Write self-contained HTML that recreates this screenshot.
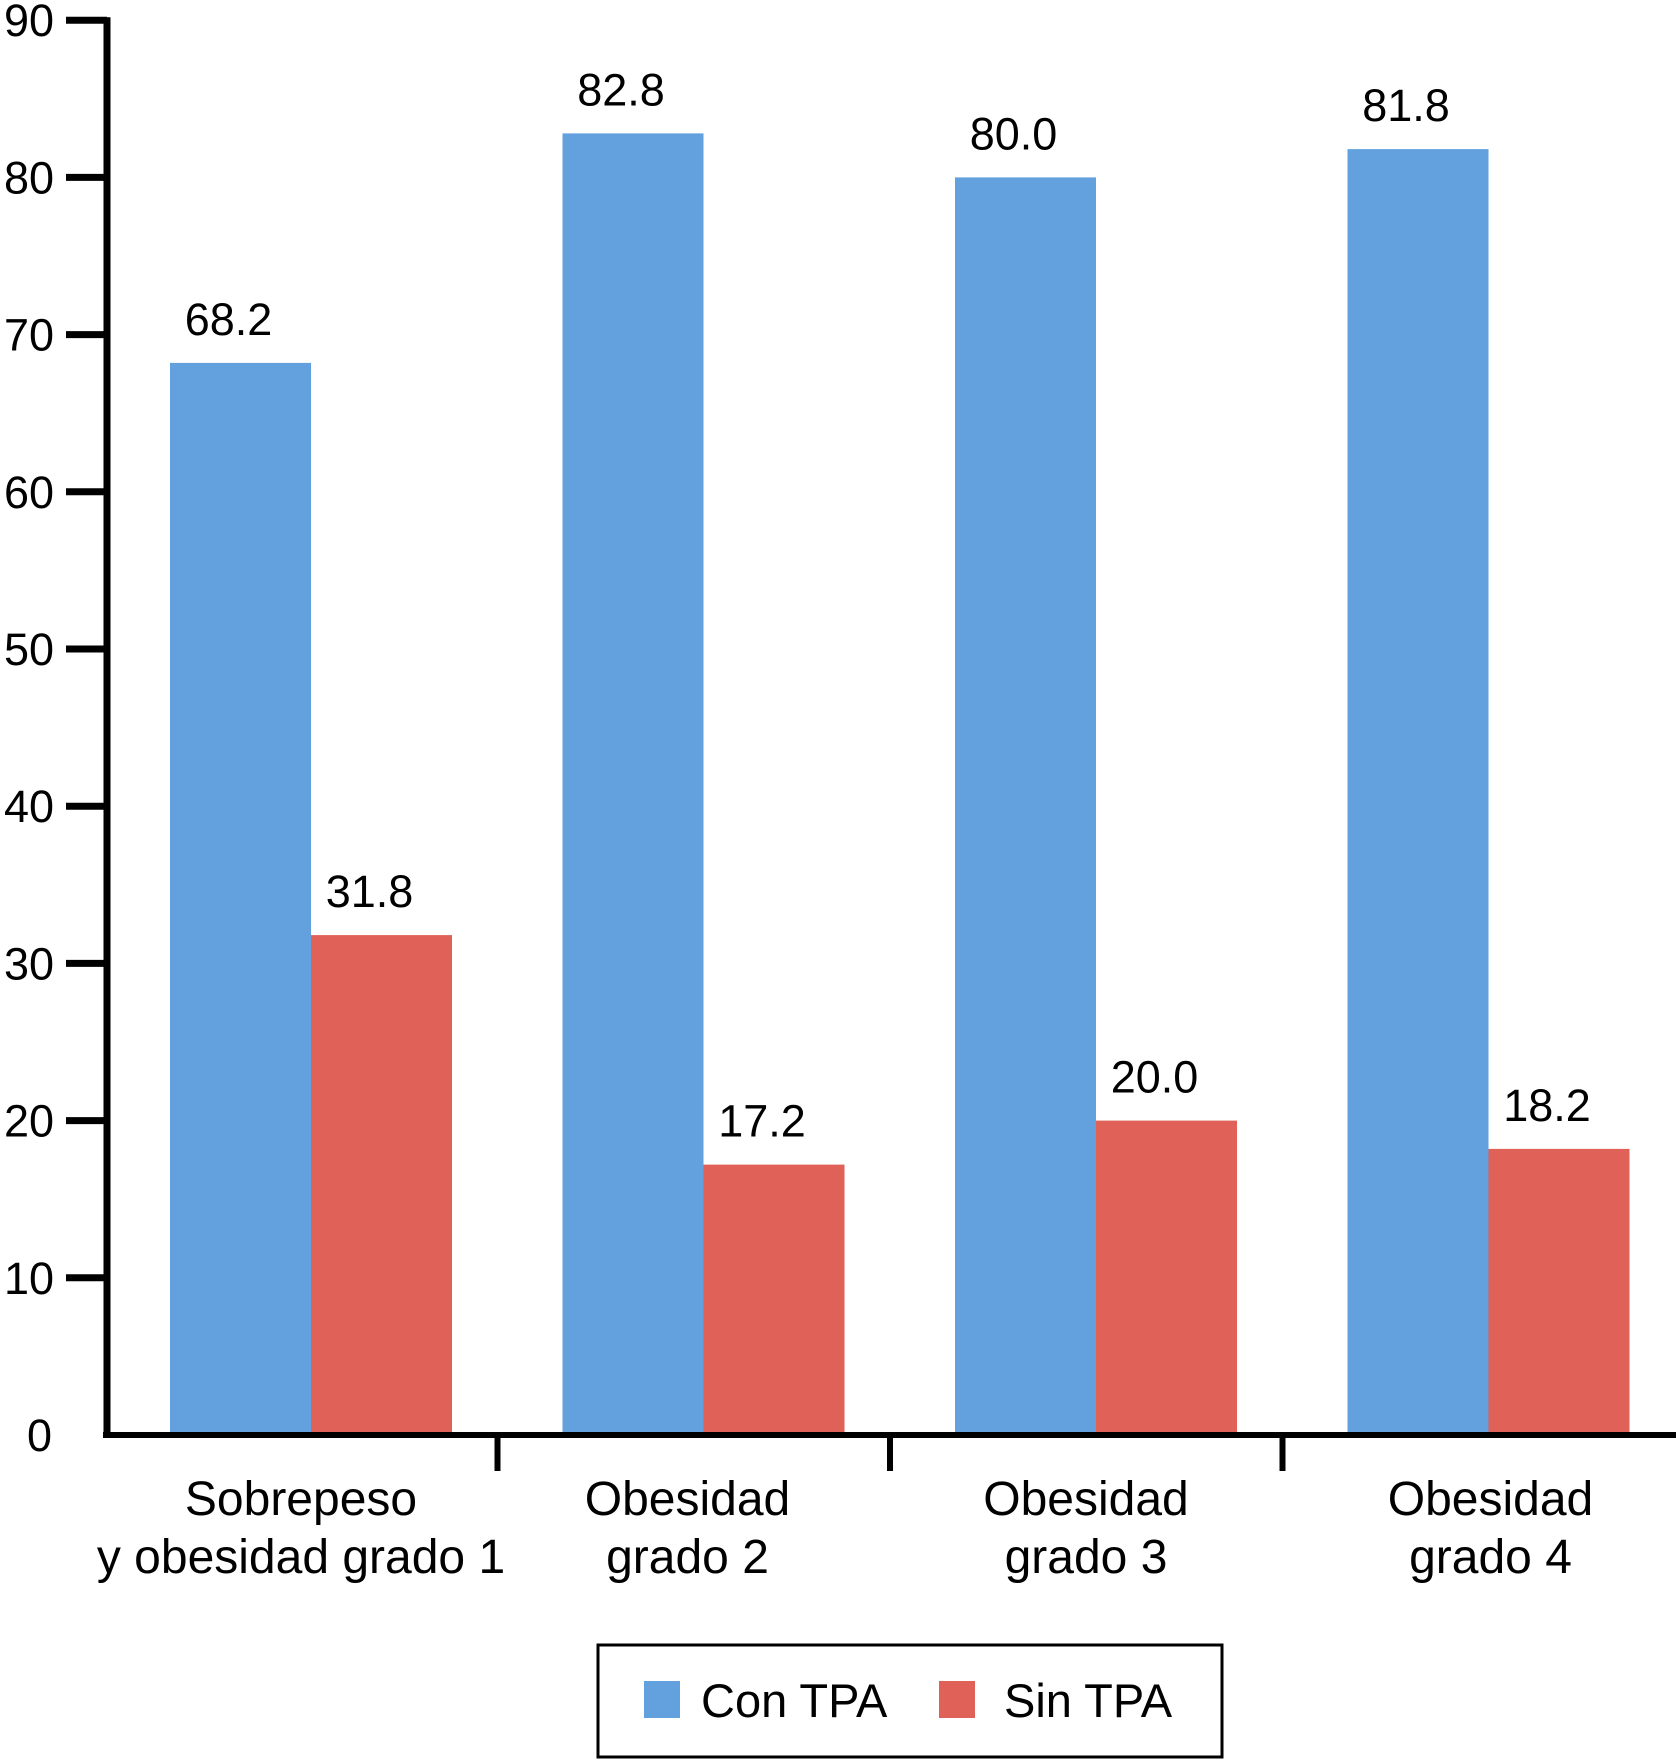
<!DOCTYPE html>
<html><head><meta charset="utf-8"><style>
body{margin:0;background:#fff}
svg{display:block;font-family:"Liberation Sans",Arial,sans-serif}
</style></head><body>
<svg id="chart" width="1676" height="1760" viewBox="0 0 1676 1760"></svg>
<script>
const categories=[["Sobrepeso","y obesidad grado 1"],["Obesidad","grado 2"],["Obesidad","grado 3"],["Obesidad","grado 4"]];
const conTPA=[68.2,82.8,80.0,81.8];
const sinTPA=[31.8,17.2,20.0,18.2];
const yTicks=[0,10,20,30,40,50,60,70,80,90];
const NS="http://www.w3.org/2000/svg";
const svg=document.getElementById('chart');
const y0=1435,pxPerUnit=15.72;
const yScale=v=>y0-v*pxPerUnit;
const groupStart=170,groupStep=392.5,barW=141;
const xScale=(i,s)=>groupStart+i*groupStep+s*barW;
function mk(tag,attrs,parent){const e=document.createElementNS(NS,tag);for(const k in attrs)e.setAttribute(k,attrs[k]);(parent||svg).appendChild(e);return e;}
conTPA.forEach((v,i)=>{
 const r=mk('rect',{x:xScale(i,0),y:yScale(v),width:barW,height:y0-yScale(v),fill:'#62a0de'});
 
 
 const t=mk('text',{x:xScale(i,0)+barW/2-12,y:yScale(v)-28,'font-size':45,'text-anchor':'middle',fill:'#000'});
 t.textContent=v.toFixed(1);
 
 
});
sinTPA.forEach((v,i)=>{
 const r=mk('rect',{x:xScale(i,1),y:yScale(v),width:barW,height:y0-yScale(v),fill:'#e06158'});
 
 
 const t=mk('text',{x:xScale(i,1)+barW/2-12,y:yScale(v)-28,'font-size':45,'text-anchor':'middle',fill:'#000'});
 t.textContent=v.toFixed(1);
 
 
});
const ya=mk('line',{x1:107,y1:yScale(90)-3,x2:107,y2:y0+3,stroke:'#000','stroke-width':7});


const xa=mk('line',{x1:103,y1:y0,x2:1676,y2:y0,stroke:'#000','stroke-width':6});


yTicks.forEach(v=>{
 if(v>0){const l=mk('line',{x1:66,y1:yScale(v),x2:107,y2:yScale(v),stroke:'#000','stroke-width':7});
 
 }
 const t=mk('text',{x:v===0?52:54,y:yScale(v)+(v===0?16:16),'font-size':45,'text-anchor':'end',fill:'#000'});
 t.textContent=v;
 
 
});
for(let i=1;i<categories.length;i++){
 const x=xScale(i,0)-65;
 const l=mk('line',{x1:x,y1:y0,x2:x,y2:1471,stroke:'#000','stroke-width':6});
 
 
}
categories.forEach((c,i)=>{
 const cx=xScale(i,1)-10+(i===3?12:0)+(i===1?-6:0);
 c.forEach((line,j)=>{
  const t=mk('text',{x:cx,y:1515+j*58,'font-size':48,'text-anchor':'middle',fill:'#000'});
  t.textContent=line;
  
  
 });
});
const lg=mk('g',{});


mk('rect',{x:598,y:1645,width:624,height:112,fill:'#fff',stroke:'#000','stroke-width':3},lg);
const s1=mk('rect',{x:644,y:1681,width:36,height:37,fill:'#62a0de'},lg);


const t1=mk('text',{x:701,y:1717,'font-size':47,fill:'#000'},lg);t1.textContent='Con TPA';


const s2=mk('rect',{x:939,y:1681,width:36,height:37,fill:'#e06158'},lg);


const t2=mk('text',{x:1004,y:1717,'font-size':47,fill:'#000'},lg);t2.textContent='Sin TPA';


</script>
</body></html>
